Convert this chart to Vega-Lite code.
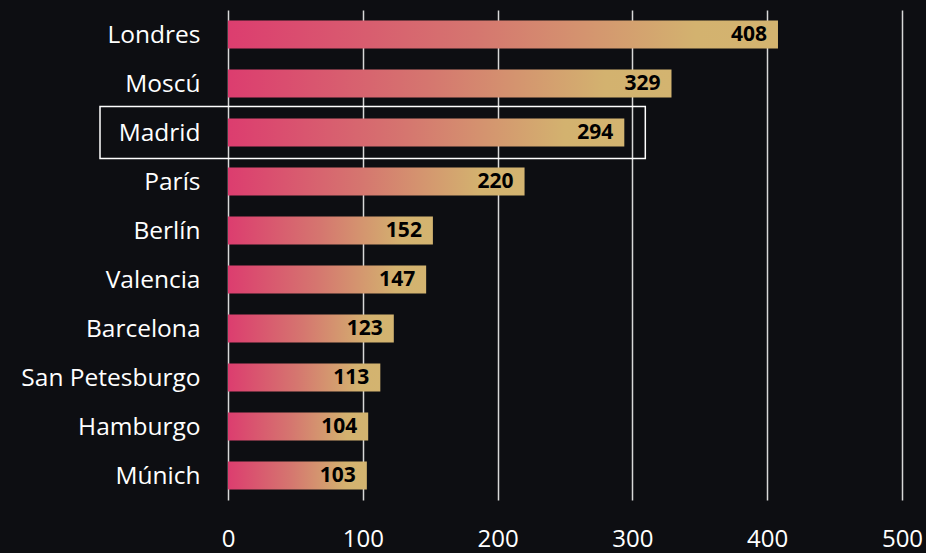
{
  "$schema": "https://vega.github.io/schema/vega-lite/v6.json",
  "width": 674,
  "height": 490,
  "autosize": {"type": "none"},
  "padding": {"left": 228, "top": 10, "right": 24, "bottom": 53},
  "background": "#0d0e12",
  "config": {
    "view": {"stroke": null},
    "font": "Open Sans"
  },
  "data": {
    "values": [
      {"city": "Londres", "value": 408},
      {"city": "Moscú", "value": 329},
      {"city": "Madrid", "value": 294},
      {"city": "París", "value": 220},
      {"city": "Berlín", "value": 152},
      {"city": "Valencia", "value": 147},
      {"city": "Barcelona", "value": 123},
      {"city": "San Petesburgo", "value": 113},
      {"city": "Hamburgo", "value": 104},
      {"city": "Múnich", "value": 103}
    ]
  },
  "encoding": {
    "y": {
      "field": "city",
      "type": "nominal",
      "sort": null,
      "scale": {"paddingInner": 0.43, "paddingOuter": 0.215},
      "axis": {
        "title": null,
        "domain": false,
        "ticks": false,
        "labelColor": "#ffffff",
        "labelFontSize": 24.5,
        "labelPadding": 28,
        "labelLimit": 400,
        "labelOffset": 1.5,
        "labelFont": "Open Sans"
      }
    }
  },
  "layer": [
    {
      "mark": {
        "type": "bar",
        "color": {
          "gradient": "linear",
          "x1": 0, "x2": 1, "y1": 0, "y2": 0,
          "stops": [
            {"offset": 0, "color": "#dc3d6f"},
            {"offset": 0.45, "color": "#d5766f"},
            {"offset": 0.85, "color": "#d3b26f"},
            {"offset": 1, "color": "#d3b470"}
          ]
        }
      },
      "encoding": {
        "x": {
          "field": "value",
          "type": "quantitative",
          "scale": {"domain": [0, 500]},
          "axis": {
            "title": null,
            "values": [0, 100, 200, 300, 400, 500],
            "domain": false,
            "ticks": false,
            "grid": true,
            "gridColor": "#d8d8d8",
            "gridWidth": 1.5,
            "labelColor": "#ffffff",
            "labelFontSize": 24,
            "labelPadding": 27,
            "labelFont": "Open Sans",
            "labelFlush": false
          }
        }
      }
    },
    {
      "mark": {
        "type": "text",
        "align": "right",
        "baseline": "middle",
        "dx": -11,
        "fontSize": 21,
        "fontWeight": "bold",
        "color": "#000000",
        "font": "Open Sans"
      },
      "encoding": {
        "x": {"field": "value", "type": "quantitative"},
        "text": {"field": "value", "type": "quantitative"}
      }
    },
    {
      "transform": [{"filter": "datum.city === 'Madrid'"}],
      "mark": {
        "type": "bar",
        "filled": false,
        "stroke": "#ffffff",
        "strokeWidth": 1.5,
        "height": 52,
        "xOffset": 21,
        "x2Offset": -128
      },
      "encoding": {
        "x": {"field": "value", "type": "quantitative"},
        "x2": {"datum": 0}
      }
    }
  ]
}
